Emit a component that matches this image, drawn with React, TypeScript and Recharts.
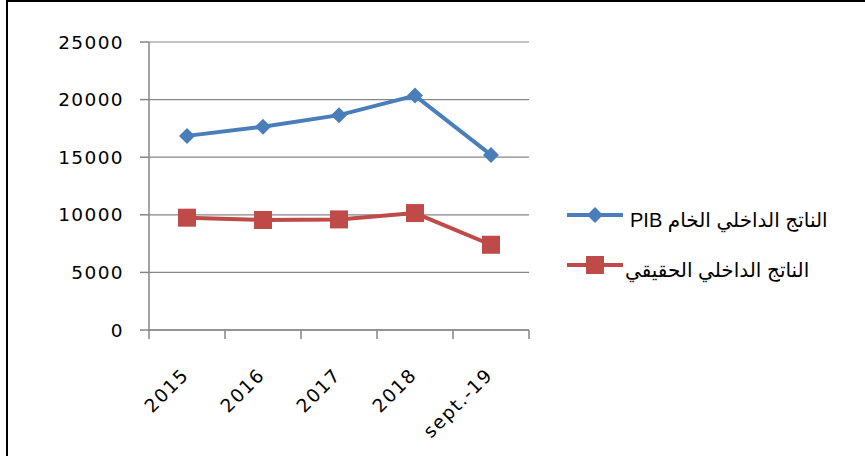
import { LineChart, Line, XAxis, YAxis, CartesianGrid } from "recharts";

const categories = ["2015", "2016", "2017", "2018", "sept.-19"];
const pibValues = [16850, 17650, 18650, 20350, 15200];
const realValues = [9750, 9550, 9600, 10150, 7400];
const yTicks = [0, 5000, 10000, 15000, 20000, 25000];
const seriesNames = ["الناتج الداخلي الخام PIB", "الناتج الداخلي الحقيقي"];

const BLUE = "#4A7EBB";
const RED = "#BE4B48";
const GRID = "#868686";
const FONT = "'DejaVu Sans', sans-serif";

const data = categories.map((label, i) => ({ label, pib: pibValues[i], real: realValues[i] }));

const Diamond = ({ cx, cy, index }: any) => (
  <path key={`d-${index}`} d={`M${cx},${cy - 8}L${cx + 8},${cy}L${cx},${cy + 8}L${cx - 8},${cy}Z`} fill={BLUE} />
);

const Square = ({ cx, cy, index }: any) => (
  <rect key={`s-${index}`} x={cx - 9} y={cy - 9} width={18} height={18} fill={RED} />
);

// excel style: tick marks sit between categories, labels turned 45deg
const XTick = ({ x, y, payload, index }: any) => {
  const half = payload?.offset || 38;
  const last = index === categories.length - 1;
  return (
    <g>
      <line x1={x - half} y1={y} x2={x - half} y2={y + 9} stroke={GRID} strokeWidth={1.5} />
      {last && <line x1={x + half} y1={y} x2={x + half} y2={y + 9} stroke={GRID} strokeWidth={1.5} />}
      <text
        x={x + 3}
        y={y + 46}
        transform={`rotate(-45, ${x + 3}, ${y + 46})`}
        textAnchor="end"
        fontSize={18.5}
        fontFamily={FONT}
        letterSpacing={1.6}
        fill="#000"
      >
        {payload.value}
      </text>
    </g>
  );
};

function Legend() {
  const rows = [
    { name: seriesNames[0], color: BLUE, marker: "diamond", y: 215 },
    { name: seriesNames[1], color: RED, marker: "square", y: 265 },
  ];
  return (
    <>
      <svg width={70} height={300} style={{ position: "absolute", left: 560, top: 0 }}>
        {rows.map((r) => (
          <g key={r.name}>
            <line x1={7} y1={r.y} x2={63} y2={r.y} stroke={r.color} strokeWidth={4} />
            {r.marker === "diamond" ? (
              <path d={`M35,${r.y - 8}L43,${r.y}L35,${r.y + 8}L27,${r.y}Z`} fill={r.color} />
            ) : (
              <rect x={26} y={r.y - 9} width={18} height={18} fill={r.color} />
            )}
          </g>
        ))}
      </svg>
      {rows.map((r) => (
        <div
          key={r.name}
          dir="rtl"
          style={{
            position: "absolute",
            left: r.marker === "diamond" ? 630 : 625,
            top: r.y - 5,
            fontFamily: "'Liberation Sans', 'DejaVu Sans', sans-serif",
            fontSize: 20,
            lineHeight: "20px",
            whiteSpace: "nowrap",
            color: "#000",
          }}
        >
          {r.name}
        </div>
      ))}
    </>
  );
}

export default function App() {
  return (
    <div style={{ position: "absolute", left: 0, top: 0, width: 865, height: 456, background: "#fff" }}>
      <div
        style={{
          position: "absolute",
          left: 6,
          top: 0,
          width: 859,
          height: 456,
          borderTop: "2px solid #000",
          borderLeft: "2px solid #000",
          boxSizing: "border-box",
        }}
      />
      <LineChart
        width={865}
        height={456}
        data={data}
        margin={{ top: 42, right: 336, bottom: 0, left: 0 }}
        style={{ position: "absolute", left: 0, top: 0 }}
      >
        <CartesianGrid horizontal vertical={false} stroke={GRID} strokeWidth={1.2} />
        <XAxis
          dataKey="label"
          scale="band"
          tickSize={0}
          tickMargin={0}
          axisLine={{ stroke: GRID, strokeWidth: 1.5 }}
          tick={<XTick />}
          interval={0}
          height={126}
        />
        <YAxis
          domain={[0, 25000]}
          ticks={yTicks}
          width={149}
          tickSize={9}
          tickMargin={16}
          axisLine={{ stroke: GRID, strokeWidth: 1.5 }}
          tickLine={{ stroke: GRID, strokeWidth: 1.5 }}
          tick={{ fontSize: 18.5, fontFamily: FONT, fill: "#000", letterSpacing: 1.4 }}
          interval={0}
        />
        <Line
          dataKey="pib"
          name={seriesNames[0]}
          stroke={BLUE}
          strokeWidth={4}
          dot={<Diamond />}
          isAnimationActive={false}
        />
        <Line
          dataKey="real"
          name={seriesNames[1]}
          stroke={RED}
          strokeWidth={4}
          dot={<Square />}
          isAnimationActive={false}
        />
      </LineChart>
      <Legend />
    </div>
  );
}
